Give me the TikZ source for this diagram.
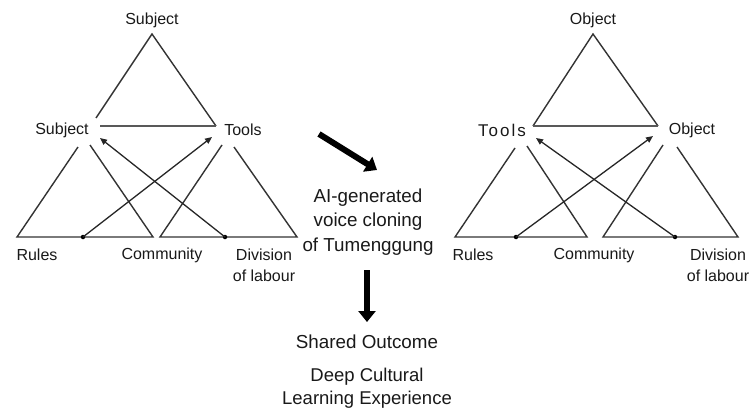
\documentclass[tikz,border=0pt]{standalone}
\usepackage{fontspec}
\setmainfont{Liberation Sans}
\newfontfamily\spacedfont[LetterSpace=12]{Liberation Sans}
\usetikzlibrary{arrows.meta}
\begin{document}
\begin{tikzpicture}[x=1pt,y=-1pt,
  lbl/.style={inner sep=0pt,font=\fontsize{16}{18}\selectfont,text=black!90},
  mid/.style={inner sep=0pt,font=\fontsize{18.8}{24.5}\selectfont,align=center,text=black!90},
  edge/.style={draw=black!80,line width=1.4pt},
  bar/.style={draw=black!65,line width=2.6pt},
  rel/.style={draw=black!85,line width=1.3pt,-{Triangle[length=7pt,width=6pt]}},
  dotstart/.style={fill=black,circle,inner sep=0pt,minimum size=4.5pt},
  big/.style={draw=black,line width=6pt,-{Triangle[length=11pt,width=17pt]}}]
\useasboundingbox (0,0) rectangle (752,412);
% ---------- left diagram ----------
\node[lbl] (lS0) at (152,20) {Subject};
\node[lbl] (lS) at (62,130) {Subject};
\node[lbl] (lT) at (243,130) {Tools};
\node[lbl] (lR) at (37,255) {Rules};
\node[lbl] (lC) at (162,255) {Community};
\node[lbl,align=center,font=\fontsize{16}{21}\selectfont] (lD) at (264,265) {Division\\of labour};
\coordinate (la) at (152,34);
\coordinate (lb) at (96,118);
\coordinate (lc) at (216,126);
\draw[edge] (lb) -- (la) -- (lc);
\draw[bar] (100,126) -- (lc);
\coordinate (l1a) at (78,147);
\coordinate (l1b) at (17,237);
\coordinate (l1c) at (153,237);
\coordinate (l1d) at (90,145);
\draw[edge] (l1a) -- (l1b) -- (l1c) -- (l1d);
\coordinate (l2a) at (222,145);
\coordinate (l2b) at (160,237);
\coordinate (l2c) at (297,237);
\coordinate (l2d) at (234,147);
\draw[edge] (l2a) -- (l2b) -- (l2c) -- (l2d);
\node[dotstart] (ld1) at (83,237) {};
\node[dotstart] (ld2) at (225,237) {};
\coordinate (lh1) at (212,137);
\coordinate (lh2) at (100,138);
\draw[rel] (ld1.center) -- (lh1);
\draw[rel] (ld2.center) -- (lh2);
% ---------- centre ----------
\coordinate (a1s) at (319,134);
\coordinate (a1e) at (377,170);
\draw[big] (a1s) -- (a1e);
\node[mid] (ai) at (368,222) {AI-generated\\voice cloning\\of Tumenggung};
\coordinate (a2s) at (367,270);
\coordinate (a2e) at (367,322);
\draw[big] (a2s) -- (a2e);
\node[mid] (so) at (367,342) {Shared Outcome};
\node[mid,font=\fontsize{18.5}{23}\selectfont] (dc) at (367,388.5) {Deep Cultural\\Learning Experience};
% ---------- right diagram ----------
\node[lbl] (rO0) at (593,20) {Object};
\node[lbl,font=\spacedfont\fontsize{17}{18}\selectfont] (rT) at (502,130) {Tools};
\node[lbl] (rO) at (692,130) {Object};
\node[lbl] (rR) at (473,255) {Rules};
\node[lbl] (rC) at (594,255) {Community};
\node[lbl,align=center,font=\fontsize{16}{21}\selectfont] (rD) at (718,265) {Division\\of labour};
\coordinate (ra) at (593,34);
\coordinate (rb) at (533,126);
\coordinate (rc) at (658,126);
\draw[edge] (rb) -- (ra) -- (rc);
\draw[bar] (rb) -- (rc);
\coordinate (r1a) at (515,148);
\coordinate (r1b) at (455,237);
\coordinate (r1c) at (587,237);
\coordinate (r1d) at (527,146);
\draw[edge] (r1a) -- (r1b) -- (r1c) -- (r1d);
\coordinate (r2a) at (663,145);
\coordinate (r2b) at (603,237);
\coordinate (r2c) at (738,237);
\coordinate (r2d) at (677,147);
\draw[edge] (r2a) -- (r2b) -- (r2c) -- (r2d);
\node[dotstart] (rd1) at (516,237) {};
\node[dotstart] (rd2) at (675,237) {};
\coordinate (rh1) at (653,136);
\coordinate (rh2) at (536,138);
\draw[rel] (rd1.center) -- (rh1);
\draw[rel] (rd2.center) -- (rh2);
\end{tikzpicture}
\end{document}
